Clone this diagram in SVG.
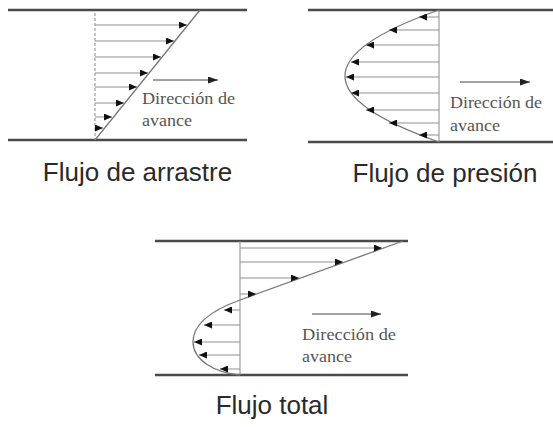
<svg xmlns="http://www.w3.org/2000/svg" width="553" height="427" viewBox="0 0 553 427">
<style>
.wall{stroke:#4a4a4a;stroke-width:2.6;fill:none}
.axis{stroke:#8a8a8a;stroke-width:1;fill:none}
.vec{stroke:#8f8f8f;stroke-width:1;fill:none}
.prof{stroke:#777;stroke-width:1.3;fill:none}
.dir{stroke:#444;stroke-width:1;fill:none}
.lbl{font-family:"Liberation Serif","Times New Roman",serif;font-size:16px;fill:#555}
.title{font-family:"Liberation Sans",Arial,sans-serif;font-size:26px;fill:#2a2a2a}
</style>
<defs>
<marker id="ah" markerWidth="8" markerHeight="7" refX="8" refY="3.5" orient="auto" markerUnits="userSpaceOnUse">
<path d="M0,0 L8,3.5 L0,7 Z" fill="#111"/>
</marker>
<marker id="ad" markerWidth="10" markerHeight="7" refX="10" refY="3.5" orient="auto" markerUnits="userSpaceOnUse">
<path d="M0,0 L10,3.5 L0,7 Z" fill="#222"/>
</marker>
</defs>

<g id="arrastre">
<line class="wall" x1="8" y1="10" x2="247" y2="10"/>
<line class="wall" x1="8" y1="140" x2="247" y2="140"/>
<line class="axis" x1="95" y1="13" x2="95" y2="140" stroke-dasharray="3,2"/>
<line class="prof" x1="95" y1="140" x2="200" y2="10"/>
<g class="vec" marker-end="url(#ah)">
<line x1="95" y1="25" x2="187" y2="25"/>
<line x1="95" y1="41" x2="174" y2="41"/>
<line x1="95" y1="57" x2="161" y2="57"/>
<line x1="95" y1="73" x2="148" y2="73"/>
<line x1="95" y1="87" x2="137" y2="87"/>
<line x1="95" y1="103" x2="124" y2="103"/>
<line x1="95" y1="117" x2="112" y2="117"/>
<line x1="95" y1="128" x2="103" y2="128"/>
</g>
<line class="dir" x1="153" y1="80" x2="218" y2="80" marker-end="url(#ad)"/>
<text class="lbl" x="142" y="104" textLength="93" lengthAdjust="spacingAndGlyphs">Dirección de</text>
<text class="lbl" x="142" y="126" textLength="50" lengthAdjust="spacingAndGlyphs">avance</text>
<text class="title" x="137.5" y="181" text-anchor="middle">Flujo de arrastre</text>
</g>

<g id="presion">
<line class="wall" x1="308" y1="10" x2="553" y2="10"/>
<line class="wall" x1="308" y1="142" x2="553" y2="142"/>
<line class="axis" x1="439" y1="10" x2="439" y2="142"/>
<path class="prof" d="M439,10 Q251,76 439,142"/>
<g class="vec" marker-end="url(#ah)">
<line x1="439" y1="17" x2="419" y2="17"/>
<line x1="439" y1="30" x2="389" y2="30"/>
<line x1="439" y1="45" x2="366" y2="45"/>
<line x1="439" y1="62" x2="351" y2="62"/>
<line x1="439" y1="77" x2="346" y2="77"/>
<line x1="439" y1="93" x2="351" y2="93"/>
<line x1="439" y1="110" x2="366" y2="110"/>
<line x1="439" y1="123" x2="389" y2="123"/>
<line x1="439" y1="135" x2="419" y2="135"/>
</g>
<line class="dir" x1="460" y1="82" x2="530" y2="82" marker-end="url(#ad)"/>
<text class="lbl" x="450" y="108" textLength="92" lengthAdjust="spacingAndGlyphs">Dirección de</text>
<text class="lbl" x="450" y="131" textLength="50" lengthAdjust="spacingAndGlyphs">avance</text>
<text class="title" x="445" y="182" text-anchor="middle">Flujo de presión</text>
</g>

<g id="total">
<line class="wall" x1="155" y1="241" x2="408" y2="241"/>
<line class="wall" x1="155" y1="375" x2="408" y2="375"/>
<line class="axis" x1="240" y1="241" x2="240" y2="375"/>
<path class="prof" d="M403,241 L240,300 C215,309 193,322 193,342 C193,360 215,373 240,375"/>
<g class="vec" marker-end="url(#ah)">
<line x1="240" y1="248" x2="382" y2="248"/>
<line x1="240" y1="262" x2="343" y2="262"/>
<line x1="240" y1="278" x2="299" y2="278"/>
<line x1="240" y1="294" x2="256" y2="294"/>
<line x1="240" y1="310" x2="224" y2="310"/>
<line x1="240" y1="325" x2="204" y2="325"/>
<line x1="240" y1="342" x2="194" y2="342"/>
<line x1="240" y1="355" x2="199" y2="355"/>
<line x1="240" y1="369" x2="220" y2="369"/>
</g>
<line class="dir" x1="312" y1="314" x2="381" y2="314" marker-end="url(#ad)"/>
<text class="lbl" x="302" y="340" textLength="94" lengthAdjust="spacingAndGlyphs">Dirección de</text>
<text class="lbl" x="302" y="362" textLength="50" lengthAdjust="spacingAndGlyphs">avance</text>
<text class="title" x="272" y="414" text-anchor="middle">Flujo total</text>
</g>
</svg>
